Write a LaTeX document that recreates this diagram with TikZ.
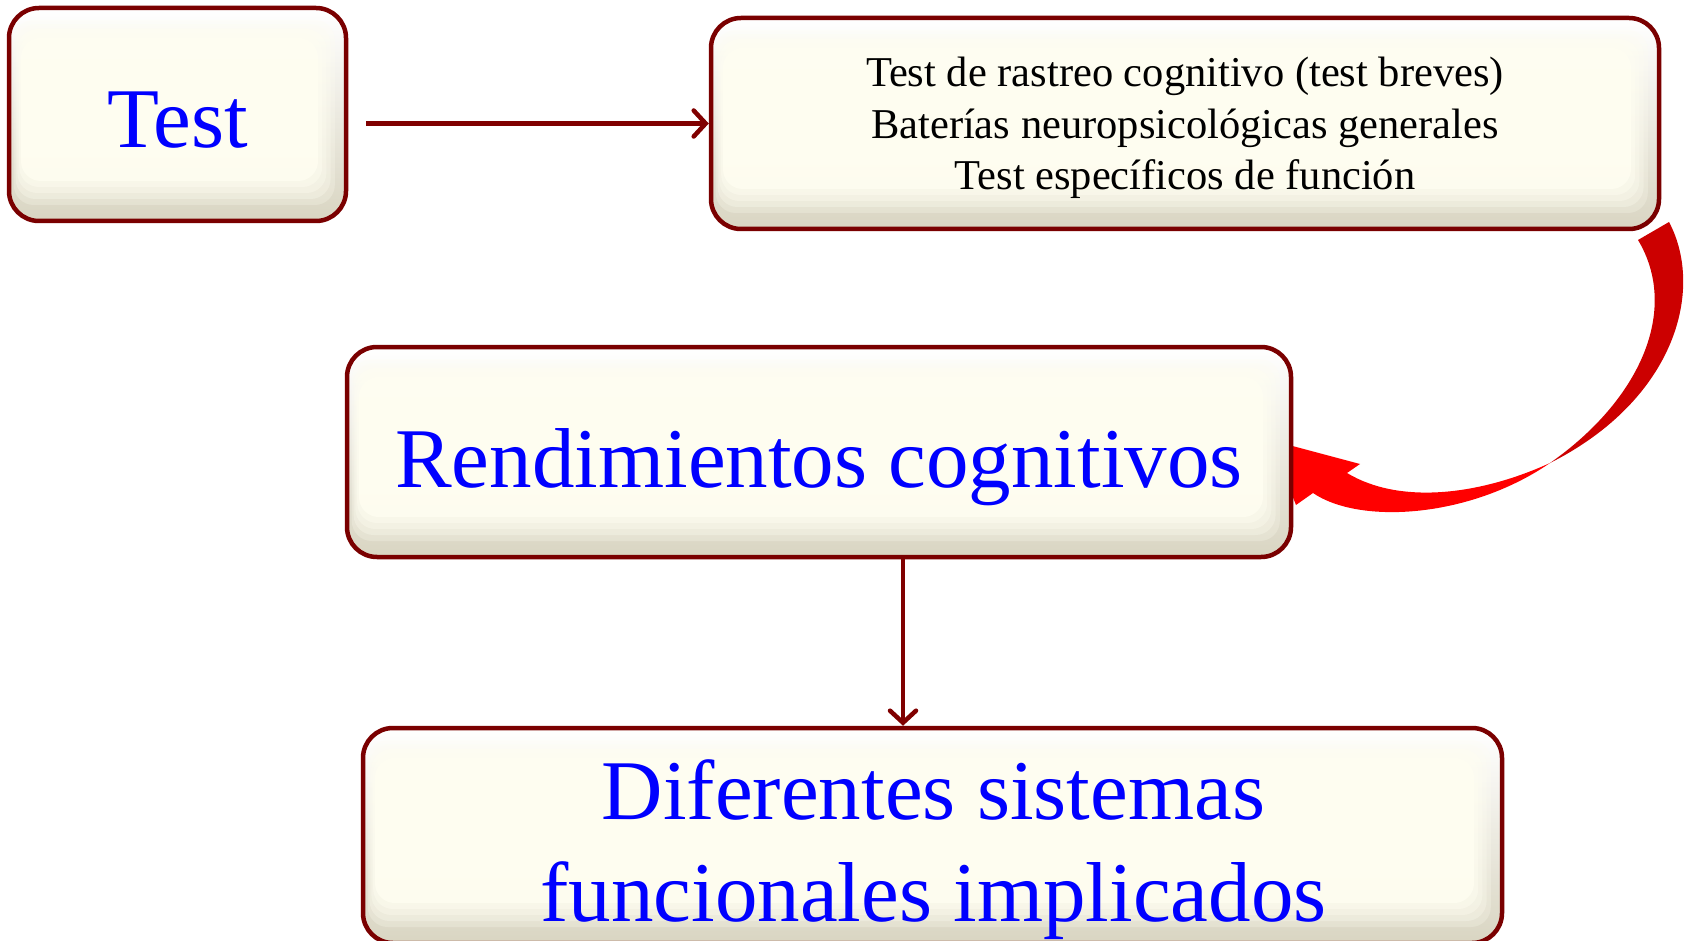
\documentclass[tikz,border=0pt]{standalone}
\usepackage{fontspec}
\setmainfont{Liberation Serif}
\usetikzlibrary{arrows.meta,calc}
\pgfdeclarelayer{background}
\pgfsetlayers{background,main}
\definecolor{bord}{HTML}{7A0000}
\definecolor{arr}{HTML}{800000}
\definecolor{bevtop}{HTML}{FFFFFF}
\definecolor{bevbot}{HTML}{D9D5C2}
\definecolor{creamA}{HTML}{FFFEF1}
\definecolor{txtblue}{HTML}{0000FF}
\definecolor{redA}{HTML}{CC0000}
\definecolor{redB}{HTML}{FF0000}
\begin{document}
\begin{tikzpicture}[x=1pt,y=-1pt,
  bx/.style={draw=bord, line width=4.5pt, rounded corners=30pt, inner sep=0pt,
    path picture={
      \fill[top color=bevtop, bottom color=bevbot]
        (path picture bounding box.south west) rectangle (path picture bounding box.north east);
      \foreach \s/\o in {0.4/0.25,0.55/0.3,0.7/0.35,0.85/0.45,1.0/0.85}{
        \fill[rounded corners=20pt, fill=creamA, fill opacity=\o]
          ([xshift={\s*12pt},yshift={-\s*30pt}]path picture bounding box.north west) rectangle
          ([xshift={-\s*28pt},yshift={\s*40pt}]path picture bounding box.south east);
      }
    }},
  big/.style={text=txtblue, font=\fontsize{85}{102}\selectfont},
  small/.style={font=\fontsize{42.5}{51.5}\selectfont, align=center},
  conn/.style={draw=arr, line width=4.5pt,
    -{Straight Barb[length=12pt,width=26pt,line cap=round]}}
]
\useasboundingbox (0,0) rectangle (1689,941);
\node[bx, big, minimum width=337pt, minimum height=213pt, text height=66pt, text depth=0pt]
  (test) at (177.5,114.5) {Test};
\node[bx, small, minimum width=948pt, minimum height=211pt, text depth=-4pt] (list) at (1185,123.5)
  {Test de rastreo cognitivo (test breves)\\Baterías neuropsicológicas generales\\Test específicos de función};
\node[bx, big, minimum width=944pt, minimum height=210pt, text height=70pt, text depth=0pt]
  (rend) at (819,452) {Rendimientos cognitivos};
\node[bx, minimum width=1139pt, minimum height=215pt] (dif) at (932.5,835.5) {};
\node[big, align=center] (diftext) at (933.5,850) {Diferentes sistemas\\funcionales implicados};

\draw[conn, shorten <=18pt] (test.east |- list.west) -- (list.west);
\coordinate (v) at (903,0);
\draw[conn] (v |- rend.south) -- (v |- dif.north);

\begin{pgfonlayer}{background}
  % back (dark) part of the curved arrow
  \fill[redA] (1669,222) .. controls (1705,290) and (1675,400) .. (1550,463)
    .. controls (1640,400) and (1680,310) .. (1638,240) -- cycle;
  % front (bright) part with head
  \fill[redB] (1550,463) .. controls (1480,495) and (1400,505) .. (1347,473)
    -- (1360,464) -- (1270,440) -- (1296,505) -- (1313,493)
    .. controls (1360,525) and (1470,518) .. (1550,463) -- cycle;
\end{pgfonlayer}
\end{tikzpicture}
\end{document}
